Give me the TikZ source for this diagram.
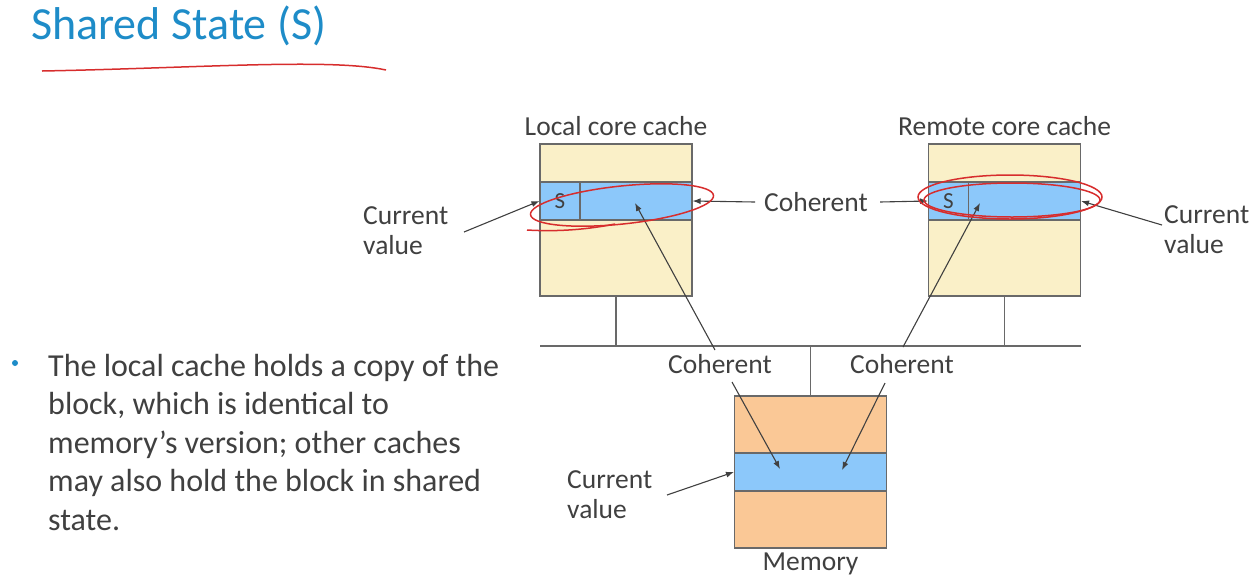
\documentclass[tikz,border=0pt]{standalone}
\usepackage{fontspec}
\setmainfont{Carlito}
\usetikzlibrary{arrows.meta}

\definecolor{cachefill}{RGB}{250,240,200}
\definecolor{memfill}{RGB}{250,200,150}
\definecolor{linefill}{RGB}{140,200,250}
\definecolor{boxline}{RGB}{105,105,105}
\definecolor{txt}{RGB}{64,64,64}
\definecolor{titleblue}{RGB}{30,140,200}
\definecolor{pen}{RGB}{215,45,45}

\tikzstyle{block}=[draw=boxline,line width=1.1pt,minimum width=152pt,minimum height=152pt,inner sep=0pt]
\tikzstyle{band}=[draw=boxline,line width=1.1pt,fill=linefill,minimum width=152pt,minimum height=38pt,inner sep=0pt]
\tikzstyle{tag}=[draw=boxline,line width=1.1pt,fill=linefill,minimum width=40pt,minimum height=38pt,inner sep=0pt,text=txt,font=\fontsize{23}{26}\selectfont]
\tikzstyle{lbl}=[text=txt,font=\fontsize{27.5}{30}\selectfont,inner sep=0pt,align=left]
\tikzstyle{wire}=[draw=boxline,line width=1.1pt]
\tikzstyle{pointer}=[draw=txt,line width=1.1pt,-{Latex[length=8pt,width=6pt]}]
\tikzstyle{ink}=[draw=pen,line width=1.5pt]

\begin{document}
\begin{tikzpicture}[x=1pt,y=-1pt]
			\useasboundingbox (0,0) rectangle (1255,582);
			% Title and the note beside the picture
			\node[anchor=base west,inner sep=0pt,text=titleblue,font=\fontsize{46}{50}\selectfont] (title) at (31,39) {Shared State (S)};
			\node[circle,fill=titleblue,inner sep=0pt,minimum size=6pt] (dot) at (15,363) {};
			\node[anchor=base west,inner sep=0pt,text=txt,align=left,font=\fontsize{32}{38.5}\selectfont] (note) at (48,530)
				{The local cache holds a copy of the\\block, which is identical to\\memory’s version; other caches\\may also hold the block in shared\\state.};
			% Caches and memory
			\node[block,fill=cachefill] (lcache) at (616,220) {};
			\node[band] (lband) at (616,201) {};
			\node[tag] (ls) at (560,201) {S};
			\node[block,fill=cachefill] (rcache) at (1004.5,220) {};
			\node[band] (rband) at (1004.5,201) {};
			\node[tag] (rs) at (948.5,201) {S};
			\node[block,fill=memfill] (mem) at (810.5,472) {};
			\node[band] (mband) at (810.5,472) {};
			% Labels
			\node[lbl,anchor=base] (lname) at (616,135) {Local core cache};
			\node[lbl,anchor=base] (rname) at (1004.5,135) {Remote core cache};
			\node[lbl,anchor=base] (mname) at (810.5,570) {Memory};
			\node[lbl,anchor=base west] (lcur) at (363,254) {Current\\value};
			\node[lbl,anchor=base west] (rcur) at (1164,253) {Current\\value};
			\node[lbl,anchor=base west] (mcur) at (567,518) {Current\\value};
			\node[lbl,anchor=base] (cohtop) at (816,211) {Coherent};
			\node[lbl,anchor=base] (lcoh) at (720,373) {Coherent};
			\node[lbl,anchor=base] (rcoh) at (902,373) {Coherent};
			% Bus
			\coordinate (busl) at (540,346);
			\coordinate (busr) at (1081,346);
			\path[wire] (busl) -- (busr);
			\path[wire] (lcache.south) -- (lcache.south |- busl);
			\path[wire] (rcache.south) -- (rcache.south |- busl);
			\path[wire] (mem.north) -- (mem.north |- busl);
			% Arrow ends
			\coordinate (lcurfrom) at (464,232);
			\coordinate (rcurfrom) at (1162,225);
			\coordinate (mcurfrom) at (667,495);
			\coordinate (lup) at (635,203);
			\coordinate (rup) at (980,203);
			\coordinate (mleft) at (780,469);
			\coordinate (mright) at (842,470);
			\coordinate (lcohup) at (715,350);
			\coordinate (lcohdown) at (732,382);
			\coordinate (rcohup) at (903,347);
			\coordinate (rcohdown) at (885,383);
			\coordinate (cohl) at (755,202);
			\coordinate (cohr) at (880,202);
			\foreach \source/ \dest in {lcurfrom/ls.west, rcurfrom/rband.east, mcurfrom/mband.west,
				cohl/lband.east, cohr/rs.west, lcohup/lup, lcohdown/mleft, rcohup/rup, rcohdown/mright}
				\path[pointer] (\source) -- (\dest);
			% Pen marks
			\draw[ink] (42,71) .. controls (200,68) and (330,58) .. (386,70);
			\draw[ink,rotate around={6:(622,205)}] (622,205) ellipse [x radius=92pt, y radius=19pt];
			\draw[ink] (527,230) .. controls (560,232) and (590,229) .. (615,224);
			\draw[ink] (1010,197) ellipse [x radius=92pt, y radius=22pt];
			\draw[ink] (1012,200) ellipse [x radius=88pt, y radius=17pt];
		\end{tikzpicture}
\end{document}
